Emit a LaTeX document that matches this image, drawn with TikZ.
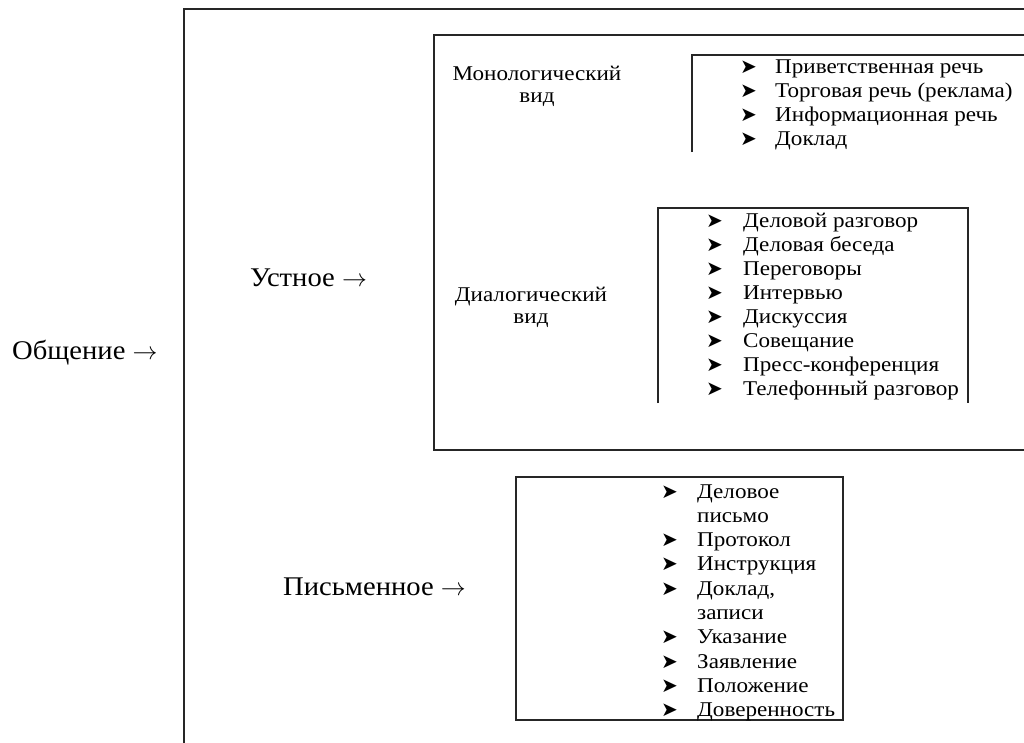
\documentclass[tikz,border=0pt]{standalone}
\usepackage{fontspec}
\setmainfont{Liberation Serif}
\newfontfamily\symfont{DejaVu Sans}
\newfontfamily\itemfont[FakeStretch=1.1]{Liberation Serif}
\newfontfamily\labelfont[FakeStretch=1.06]{Liberation Serif}
\tikzset{
  frame/.style={draw=black!85, line width=1.4pt},
  biglabel/.style={anchor=base west, inner sep=0pt, font=\labelfont\fontsize{27}{30}\selectfont},
  kind/.style={anchor=north, inner sep=0pt, align=center, font=\itemfont\fontsize{21}{22}\selectfont},
  item/.style={anchor=base west, inner sep=0pt, font=\itemfont\fontsize{21}{24}\selectfont},
  bul/.style={anchor=base west, inner sep=0pt, font=\symfont\fontsize{20}{20}\selectfont},
}
\begin{document}
\begin{tikzpicture}[x=1pt,y=-1pt]
\useasboundingbox (0,0) rectangle (1024,742);
\clip (0,0) rectangle (1024,742);
\fill[white] (0,0) rectangle (1024,742);

% frames
\draw[frame] (184,760) -- (184,9) -- (1040,9);
\draw[frame] (1040,35) -- (434,35) -- (434,450) -- (1040,450);
\draw[frame] (692,152) -- (692,55) -- (1040,55);
\draw[frame] (658,403) -- (658,208) -- (968,208) -- (968,403);
\draw[frame] (516,477) rectangle (843,720);

% main labels
\node[biglabel] (obsh) at (12,359) {Общение $\rightarrow$};
\node[biglabel] (ust) at (250,286) {Устное $\rightarrow$};
\node[biglabel] (pis) at (283,595) {Письменное $\rightarrow$};

\node[kind] (mono) at (537,66) {Монологический\\вид};
\node[kind] (dial) at (531,287) {Диалогический\\вид};

% monologue list
\foreach \t [count=\i] in {Приветственная речь,Торговая речь (реклама),Информационная речь,Доклад}{
  \node[bul] (mb\i) at (740,{73+24*(\i-1)}) {➤};
  \node[item] (mt\i) at (775,{73+24*(\i-1)}) {\t};
}

% dialogue list
\foreach \t [count=\i] in {Деловой разговор,Деловая беседа,Переговоры,Интервью,Дискуссия,Совещание,Пресс-конференция,Телефонный разговор}{
  \node[bul] (db\i) at (706,{227+24*(\i-1)}) {➤};
  \node[item] (dt\i) at (743,{227+24*(\i-1)}) {\t};
}

% written list
\foreach \t/\b [count=\i] in {Деловое/1,письмо/0,Протокол/1,Инструкция/1,{Доклад,}/1,записи/0,Указание/1,Заявление/1,Положение/1,Доверенность/1}{
  \ifnum\b=1 \node[bul] (wb\i) at (661,{498+24.3*(\i-1)}) {➤};\fi
  \node[item] (wt\i) at (697,{498+24.3*(\i-1)}) {\t};
}
\end{tikzpicture}
\end{document}
